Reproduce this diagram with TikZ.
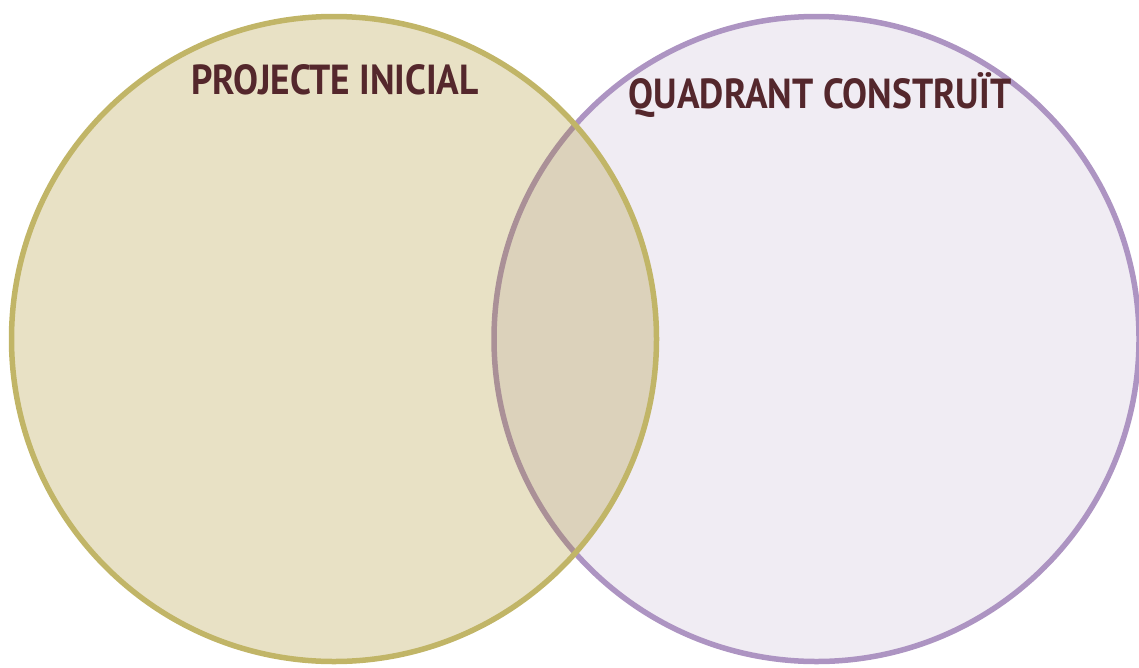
\documentclass[tikz,border=0pt]{standalone}
\usepackage{fontspec}
\setmainfont{PT Sans}
\newfontfamily\labelfont{PT Sans}[FakeStretch=0.89]
\definecolor{goldline}{RGB}{193,181,103}
\definecolor{goldfill}{RGB}{163,135,23}
\definecolor{lavfill}{RGB}{240,236,243}
\definecolor{lavline}{RGB}{173,148,194}
\definecolor{labelcol}{RGB}{84,39,44}
\tikzset{
  setlabel/.style={font=\labelfont\bfseries\fontsize{42}{48}\selectfont, text=labelcol, inner sep=0pt, anchor=base},
  setcircle/.style={circle, minimum size=645pt, inner sep=0pt, line width=5.5pt},
}
\begin{document}
\begin{tikzpicture}[x=1pt,y=-1pt]
\useasboundingbox (0,0) rectangle (1139,667);
\node[setcircle, draw=lavline, fill=lavfill] (right) at (816.5,339) {};
\node[setcircle, draw=goldline, fill=goldfill, fill opacity=0.25] (left) at (334,339) {};
\node[setlabel] (lt) at (335,94) {PROJECTE INICIAL};
\node[setlabel] (rt) at (820,108) {QUADRANT CONSTRUÏT};
\end{tikzpicture}
\end{document}
